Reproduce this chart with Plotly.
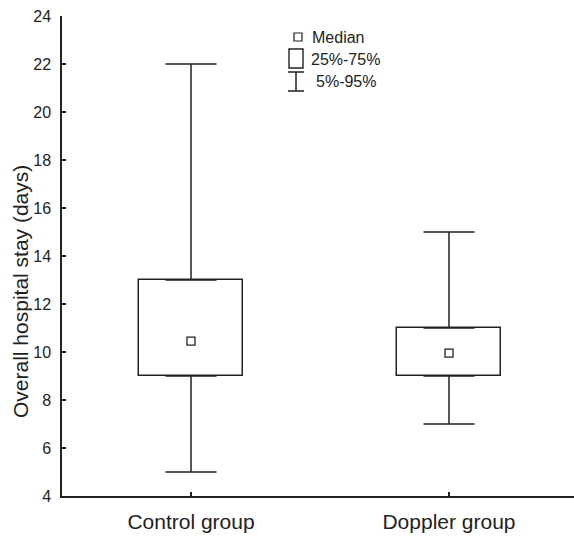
import plotly.graph_objects as go

groups = ["Control group", "Doppler group"]
p5 = [5, 7]
q1 = [9, 9]
median = [10.45, 9.95]
q3 = [13, 11]
p95 = [22, 15]
yticks = [4, 6, 8, 10, 12, 14, 16, 18, 20, 22, 24]

xpos = list(range(len(groups)))
ink = "#222222"
FONT = "Liberation Sans, Arial, sans-serif"

fig = go.Figure()
# boxes (25%-75%)
fig.add_trace(go.Bar(
    x=xpos, y=[b - a for a, b in zip(q1, q3)], base=q1, width=0.4,
    marker=dict(color="white", line=dict(color=ink, width=1.5)),
    showlegend=False, hoverinfo="skip"))
# upper whiskers
fig.add_trace(go.Scatter(
    x=xpos, y=q3, mode="markers", marker=dict(size=1, opacity=0),
    error_y=dict(type="data", symmetric=False,
                 array=[b - a for a, b in zip(q3, p95)],
                 arrayminus=[0, 0], color=ink, thickness=1.5, width=25.5),
    showlegend=False, hoverinfo="skip"))
# lower whiskers
fig.add_trace(go.Scatter(
    x=xpos, y=q1, mode="markers", marker=dict(size=1, opacity=0),
    error_y=dict(type="data", symmetric=False,
                 array=[0, 0],
                 arrayminus=[a - b for a, b in zip(q1, p5)], color=ink, thickness=1.5, width=25.5),
    showlegend=False, hoverinfo="skip"))
# medians
fig.add_trace(go.Scatter(
    x=xpos, y=median, mode="markers",
    marker=dict(symbol="square-open", size=8, color=ink, line=dict(width=1.3)),
    showlegend=False, hoverinfo="skip"))

W, H = 574, 538
L, R, T, B = 62, 0, 16, 42
pw, ph = W - L - R, H - T - B
def px(x): return (x - L) / pw
def py(y): return 1 - (y - T) / ph

shapes = [
    dict(type="rect", xref="paper", yref="paper", x0=px(294), x1=px(302), y0=py(41), y1=py(33),
         line=dict(color=ink, width=1.2)),
    dict(type="rect", xref="paper", yref="paper", x0=px(289), x1=px(303), y0=py(68), y1=py(49),
         line=dict(color=ink, width=1.4)),
    dict(type="line", xref="paper", yref="paper", x0=px(296), x1=px(296), y0=py(72), y1=py(91),
         line=dict(color=ink, width=1.5)),
    dict(type="line", xref="paper", yref="paper", x0=px(288), x1=px(304), y0=py(72), y1=py(72),
         line=dict(color=ink, width=1.5)),
    dict(type="line", xref="paper", yref="paper", x0=px(288), x1=px(304), y0=py(91), y1=py(91),
         line=dict(color=ink, width=1.5)),
]
anns = [
    dict(text="Median", x=px(310), y=py(38)),
    dict(text="25%-75%", x=px(309), y=py(59)),
    dict(text="5%-95%", x=px(314), y=py(82)),
]
for a in anns:
    a.update(xref="paper", yref="paper", xanchor="left", yanchor="middle", showarrow=False,
             font=dict(family=FONT, size=16, color=ink))
anns.append(dict(text="Overall hospital stay (days)", textangle=-90, xref="paper", yref="paper",
                 x=px(20), y=py(292), xanchor="center", yanchor="middle", showarrow=False,
                 font=dict(family=FONT, size=21, color=ink)))

fig.update_layout(
    width=W, height=H, margin=dict(l=L, r=R, t=T, b=B, autoexpand=False),
    plot_bgcolor="white", paper_bgcolor="white",
    shapes=shapes, annotations=anns, bargap=0,
    font=dict(family=FONT, color=ink),
)
fig.update_xaxes(
    range=[-0.5, 1.4845], tickvals=xpos, ticktext=groups, automargin=False,
    showline=True, linecolor=ink, linewidth=1.5, ticks="inside", ticklen=4,
    tickcolor=ink, tickwidth=1.5, showgrid=False, zeroline=False,
    tickfont=dict(size=21, family=FONT, color=ink), ticklabelstandoff=6)
fig.update_yaxes(
    range=[4, 24], tickvals=yticks, showline=True, linecolor=ink, linewidth=1.5, automargin=False,
    ticks="inside", ticklen=4, tickcolor=ink, tickwidth=1.5, showgrid=False, zeroline=False,
    tickfont=dict(size=16, family=FONT, color=ink), ticklabelstandoff=6)

fig.write_html("out.html", config={"displayModeBar": False},
               post_script="document.body.style.margin='0';document.body.style.overflow='hidden';")
